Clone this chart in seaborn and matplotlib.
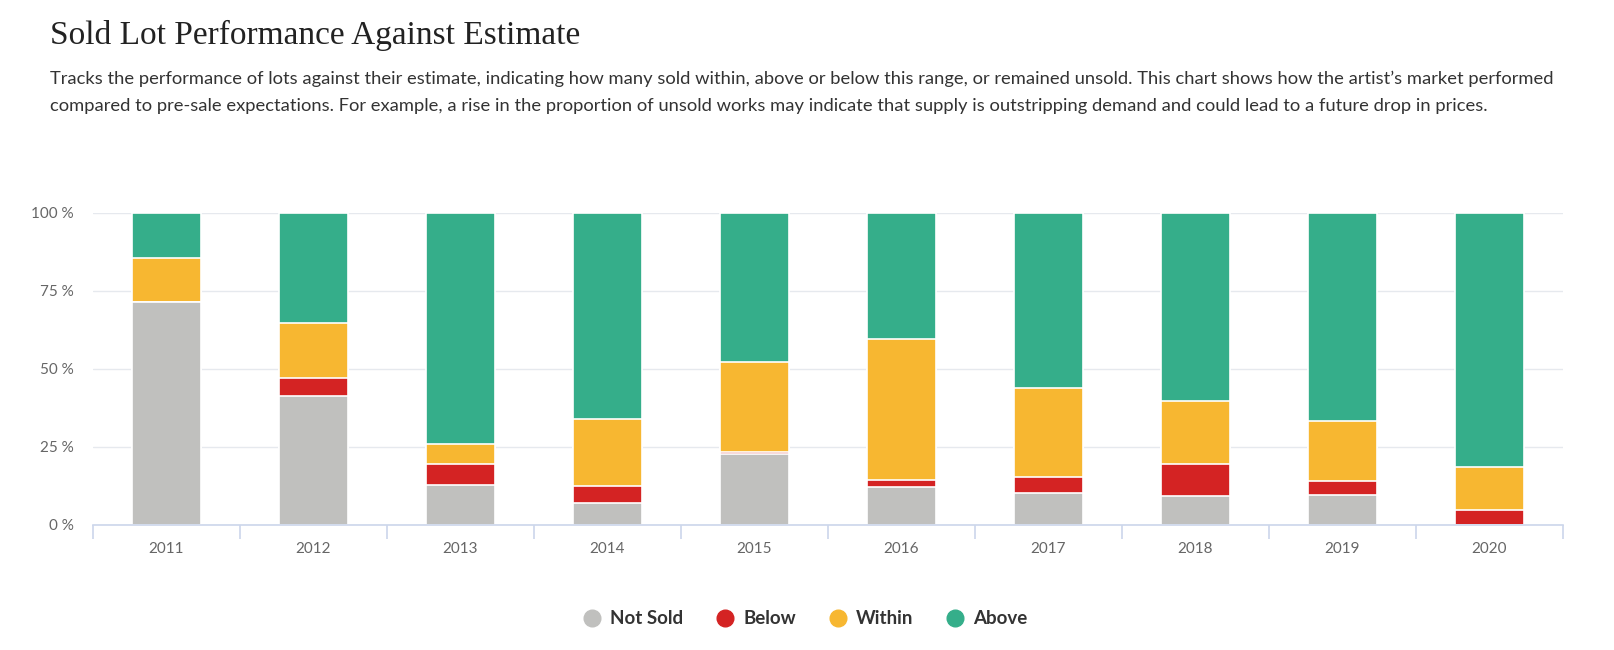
import numpy as np
import pandas as pd
import matplotlib
matplotlib.use("Agg")
import matplotlib.pyplot as plt
from matplotlib.lines import Line2D
import seaborn as sns

years = ["2011", "2012", "2013", "2014", "2015", "2016", "2017", "2018", "2019", "2020"]
not_sold = [71.4, 41.2, 12.9, 7.2, 22.9, 12.3, 10.1, 9.4, 9.5, 0.0]
below    = [0.0, 5.9, 6.5, 5.3, 0.5, 2.1, 5.4, 10.1, 4.6, 4.8]
within   = [14.3, 17.6, 6.5, 21.5, 28.9, 45.3, 28.5, 20.2, 19.3, 13.7]
above    = [14.3, 35.3, 74.1, 66.0, 47.7, 40.3, 56.0, 60.3, 66.6, 81.5]

series_names = ["Not Sold", "Below", "Within", "Above"]
colors = ["#c0c0be", "#d42323", "#f7b731", "#35ae8a"]
y_ticks = [0, 25, 50, 75, 100]
y_tick_labels = ["0 %", "25 %", "50 %", "75 %", "100 %"]

title = "Sold Lot Performance Against Estimate"
subtitle_lines = [
    "Tracks the performance of lots against their estimate, indicating how many sold within, above or below this range, or remained unsold. This chart shows how the artist\u2019s market performed",
    "compared to pre-sale expectations. For example, a rise in the proportion of unsold works may indicate that supply is outstripping demand and could lead to a future drop in prices.",
]

sns.set_theme(style="white")
plt.rcParams["font.family"] = ["Lato", "DejaVu Sans"]

df = pd.DataFrame({"year": years, "Not Sold": not_sold, "Below": below,
                   "Within": within, "Above": above})
cum = df[series_names].cumsum(axis=1)

fig = plt.figure(figsize=(16.14, 6.5), dpi=100)
ax = fig.add_axes([93 / 1614, 1 - 525 / 650, 1470 / 1614, 312 / 650])

# draw cumulative totals from the top segment down so that each overlaps correctly
for name, col in reversed(list(zip(series_names, colors))):
    sns.barplot(x=df["year"], y=cum[name], color=col, ax=ax, width=0.476,
                edgecolor="white", linewidth=1.2, saturation=1, zorder=3)

ax.set_xlim(-0.5, len(years) - 0.5)
ax.set_ylim(0, 100)
ax.set_yticks(y_ticks)
ax.set_yticklabels(y_tick_labels)
ax.set_xlabel("")
ax.set_ylabel("")
ax.yaxis.grid(True, color="#e6e9ee", linewidth=1, zorder=0)
ax.xaxis.grid(False)
for s in ["top", "right", "left"]:
    ax.spines[s].set_visible(False)
ax.spines["bottom"].set_color("#ccd6eb")
ax.spines["bottom"].set_linewidth(1.2)
ax.spines["bottom"].set_zorder(4)

ax.tick_params(axis="y", length=0, pad=14, labelsize=11, labelcolor="#666666")
ax.tick_params(axis="x", which="major", length=0, pad=12, labelsize=11, labelcolor="#666666")
ax.set_xticks(np.arange(-0.5, len(years), 1.0), minor=True)
ax.tick_params(axis="x", which="minor", bottom=True, length=10, width=1.2,
               color="#ccd6eb", direction="out")

fig.text(50 / 1614, 1 - 35 / 650, title, fontsize=24, color="#222222",
         family=["Liberation Serif", "DejaVu Serif"], va="center", ha="left")
for i, line in enumerate(subtitle_lines):
    fig.text(50 / 1614, 1 - (79 + 27 * i) / 650, line, fontsize=13.2, color="#333333",
             va="center", ha="left")

handles = [Line2D([0], [0], marker="o", linestyle="", markersize=12,
                  markerfacecolor=c, markeredgecolor=c) for c in colors]
leg = fig.legend(handles, series_names, loc="center", bbox_to_anchor=(0.497, 1 - 619 / 650),
                 ncol=4, frameon=False, handletextpad=0.15, columnspacing=1.45,
                 handlelength=1.6, prop={"weight": "bold", "size": 13.5})
for t in leg.get_texts():
    t.set_color("#333333")

fig.savefig("out.png", dpi=100, facecolor="white")
